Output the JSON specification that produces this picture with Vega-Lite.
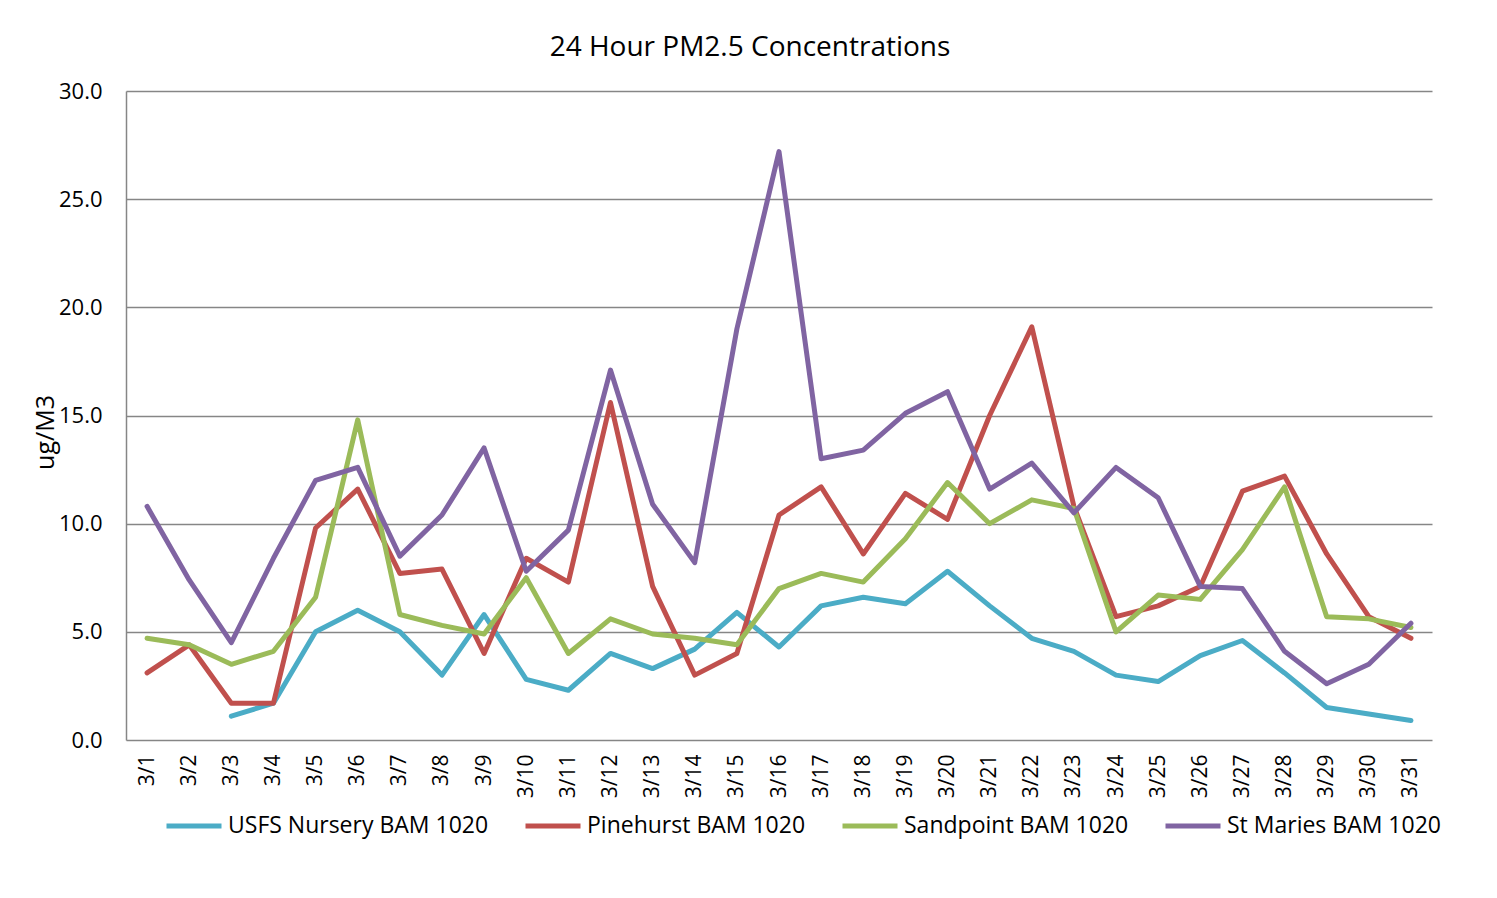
{
  "$schema": "https://vega.github.io/schema/vega-lite/v6.json",
  "autosize": "none",
  "width": 1306,
  "height": 649,
  "padding": {"left": 126, "top": 91, "right": 65, "bottom": 158},
  "background": "white",
  "title": {"text": "24 Hour PM2.5 Concentrations", "fontSize": 28, "fontWeight": "normal", "font": "Open Sans", "color": "#000000", "anchor": "middle", "baseline": "alphabetic", "offset": 33, "dx": -29, "dy": 37},
  "data": {"values": [
    {"d": "3/1", "USFS Nursery BAM 1020": null, "Pinehurst BAM 1020": 3.1, "Sandpoint BAM 1020": 4.7, "St Maries BAM 1020": 10.8},
    {"d": "3/2", "USFS Nursery BAM 1020": null, "Pinehurst BAM 1020": 4.4, "Sandpoint BAM 1020": 4.4, "St Maries BAM 1020": 7.4},
    {"d": "3/3", "USFS Nursery BAM 1020": 1.1, "Pinehurst BAM 1020": 1.7, "Sandpoint BAM 1020": 3.5, "St Maries BAM 1020": 4.5},
    {"d": "3/4", "USFS Nursery BAM 1020": 1.7, "Pinehurst BAM 1020": 1.7, "Sandpoint BAM 1020": 4.1, "St Maries BAM 1020": 8.4},
    {"d": "3/5", "USFS Nursery BAM 1020": 5.0, "Pinehurst BAM 1020": 9.8, "Sandpoint BAM 1020": 6.6, "St Maries BAM 1020": 12.0},
    {"d": "3/6", "USFS Nursery BAM 1020": 6.0, "Pinehurst BAM 1020": 11.6, "Sandpoint BAM 1020": 14.8, "St Maries BAM 1020": 12.6},
    {"d": "3/7", "USFS Nursery BAM 1020": 5.0, "Pinehurst BAM 1020": 7.7, "Sandpoint BAM 1020": 5.8, "St Maries BAM 1020": 8.5},
    {"d": "3/8", "USFS Nursery BAM 1020": 3.0, "Pinehurst BAM 1020": 7.9, "Sandpoint BAM 1020": 5.3, "St Maries BAM 1020": 10.4},
    {"d": "3/9", "USFS Nursery BAM 1020": 5.8, "Pinehurst BAM 1020": 4.0, "Sandpoint BAM 1020": 4.9, "St Maries BAM 1020": 13.5},
    {"d": "3/10", "USFS Nursery BAM 1020": 2.8, "Pinehurst BAM 1020": 8.4, "Sandpoint BAM 1020": 7.5, "St Maries BAM 1020": 7.8},
    {"d": "3/11", "USFS Nursery BAM 1020": 2.3, "Pinehurst BAM 1020": 7.3, "Sandpoint BAM 1020": 4.0, "St Maries BAM 1020": 9.7},
    {"d": "3/12", "USFS Nursery BAM 1020": 4.0, "Pinehurst BAM 1020": 15.6, "Sandpoint BAM 1020": 5.6, "St Maries BAM 1020": 17.1},
    {"d": "3/13", "USFS Nursery BAM 1020": 3.3, "Pinehurst BAM 1020": 7.1, "Sandpoint BAM 1020": 4.9, "St Maries BAM 1020": 10.9},
    {"d": "3/14", "USFS Nursery BAM 1020": 4.2, "Pinehurst BAM 1020": 3.0, "Sandpoint BAM 1020": 4.7, "St Maries BAM 1020": 8.2},
    {"d": "3/15", "USFS Nursery BAM 1020": 5.9, "Pinehurst BAM 1020": 4.0, "Sandpoint BAM 1020": 4.4, "St Maries BAM 1020": 19.0},
    {"d": "3/16", "USFS Nursery BAM 1020": 4.3, "Pinehurst BAM 1020": 10.4, "Sandpoint BAM 1020": 7.0, "St Maries BAM 1020": 27.2},
    {"d": "3/17", "USFS Nursery BAM 1020": 6.2, "Pinehurst BAM 1020": 11.7, "Sandpoint BAM 1020": 7.7, "St Maries BAM 1020": 13.0},
    {"d": "3/18", "USFS Nursery BAM 1020": 6.6, "Pinehurst BAM 1020": 8.6, "Sandpoint BAM 1020": 7.3, "St Maries BAM 1020": 13.4},
    {"d": "3/19", "USFS Nursery BAM 1020": 6.3, "Pinehurst BAM 1020": 11.4, "Sandpoint BAM 1020": 9.3, "St Maries BAM 1020": 15.1},
    {"d": "3/20", "USFS Nursery BAM 1020": 7.8, "Pinehurst BAM 1020": 10.2, "Sandpoint BAM 1020": 11.9, "St Maries BAM 1020": 16.1},
    {"d": "3/21", "USFS Nursery BAM 1020": 6.2, "Pinehurst BAM 1020": 15.0, "Sandpoint BAM 1020": 10.0, "St Maries BAM 1020": 11.6},
    {"d": "3/22", "USFS Nursery BAM 1020": 4.7, "Pinehurst BAM 1020": 19.1, "Sandpoint BAM 1020": 11.1, "St Maries BAM 1020": 12.8},
    {"d": "3/23", "USFS Nursery BAM 1020": 4.1, "Pinehurst BAM 1020": 10.8, "Sandpoint BAM 1020": 10.7, "St Maries BAM 1020": 10.5},
    {"d": "3/24", "USFS Nursery BAM 1020": 3.0, "Pinehurst BAM 1020": 5.7, "Sandpoint BAM 1020": 5.0, "St Maries BAM 1020": 12.6},
    {"d": "3/25", "USFS Nursery BAM 1020": 2.7, "Pinehurst BAM 1020": 6.2, "Sandpoint BAM 1020": 6.7, "St Maries BAM 1020": 11.2},
    {"d": "3/26", "USFS Nursery BAM 1020": 3.9, "Pinehurst BAM 1020": 7.1, "Sandpoint BAM 1020": 6.5, "St Maries BAM 1020": 7.1},
    {"d": "3/27", "USFS Nursery BAM 1020": 4.6, "Pinehurst BAM 1020": 11.5, "Sandpoint BAM 1020": 8.8, "St Maries BAM 1020": 7.0},
    {"d": "3/28", "USFS Nursery BAM 1020": 3.1, "Pinehurst BAM 1020": 12.2, "Sandpoint BAM 1020": 11.7, "St Maries BAM 1020": 4.1},
    {"d": "3/29", "USFS Nursery BAM 1020": 1.5, "Pinehurst BAM 1020": 8.6, "Sandpoint BAM 1020": 5.7, "St Maries BAM 1020": 2.6},
    {"d": "3/30", "USFS Nursery BAM 1020": 1.2, "Pinehurst BAM 1020": 5.7, "Sandpoint BAM 1020": 5.6, "St Maries BAM 1020": 3.5},
    {"d": "3/31", "USFS Nursery BAM 1020": 0.9, "Pinehurst BAM 1020": 4.7, "Sandpoint BAM 1020": 5.2, "St Maries BAM 1020": 5.4}
  ]},
  "transform": [
    {"fold": ["USFS Nursery BAM 1020", "Pinehurst BAM 1020", "Sandpoint BAM 1020", "St Maries BAM 1020"], "as": ["series", "value"]}
  ],
  "mark": {"type": "line", "strokeWidth": 5, "strokeCap": "round", "strokeJoin": "round"},
  "encoding": {
    "x": {"field": "d", "type": "ordinal", "sort": null, "title": null,
      "axis": {"labelAngle": -90, "labelAlign": "right", "labelBaseline": "middle", "labelFontSize": 21, "labelFont": "Open Sans", "labelColor": "#000000", "labelPadding": 14, "ticks": false, "domain": false, "grid": false}},
    "y": {"field": "value", "type": "quantitative", "title": "ug/M3",
      "scale": {"domain": [0, 30], "nice": false},
      "axis": {"values": [0, 5, 10, 15, 20, 25, 30], "format": ".1f", "labelFontSize": 22, "labelFont": "Open Sans", "labelColor": "#000000", "labelPadding": 24, "ticks": false,
        "domainColor": "#868686", "domainWidth": 1.5, "gridColor": "#868686", "gridWidth": 1.5,
        "titleFontSize": 25, "titleFont": "Open Sans", "titleFontWeight": "normal", "titleColor": "#000000", "titleAngle": -90, "titleX": -68, "titleY": 341, "titleAlign": "center", "titleBaseline": "bottom"}},
    "color": {"field": "series", "type": "nominal", "title": null,
      "scale": {"domain": ["USFS Nursery BAM 1020", "Pinehurst BAM 1020", "Sandpoint BAM 1020", "St Maries BAM 1020"], "range": ["#4BACC6", "#C0504D", "#9BBB59", "#8064A2"]},
      "legend": {"orient": "none", "legendX": 38, "legendY": 705, "direction": "horizontal", "columns": 4, "columnPadding": 26, "symbolType": "stroke", "symbolSize": 3025, "symbolStrokeWidth": 5, "labelFontSize": 23, "labelFont": "Open Sans", "labelColor": "#000000", "labelOffset": 4, "labelLimit": 400}}
  },
  "config": {"view": {"stroke": null}}
}
